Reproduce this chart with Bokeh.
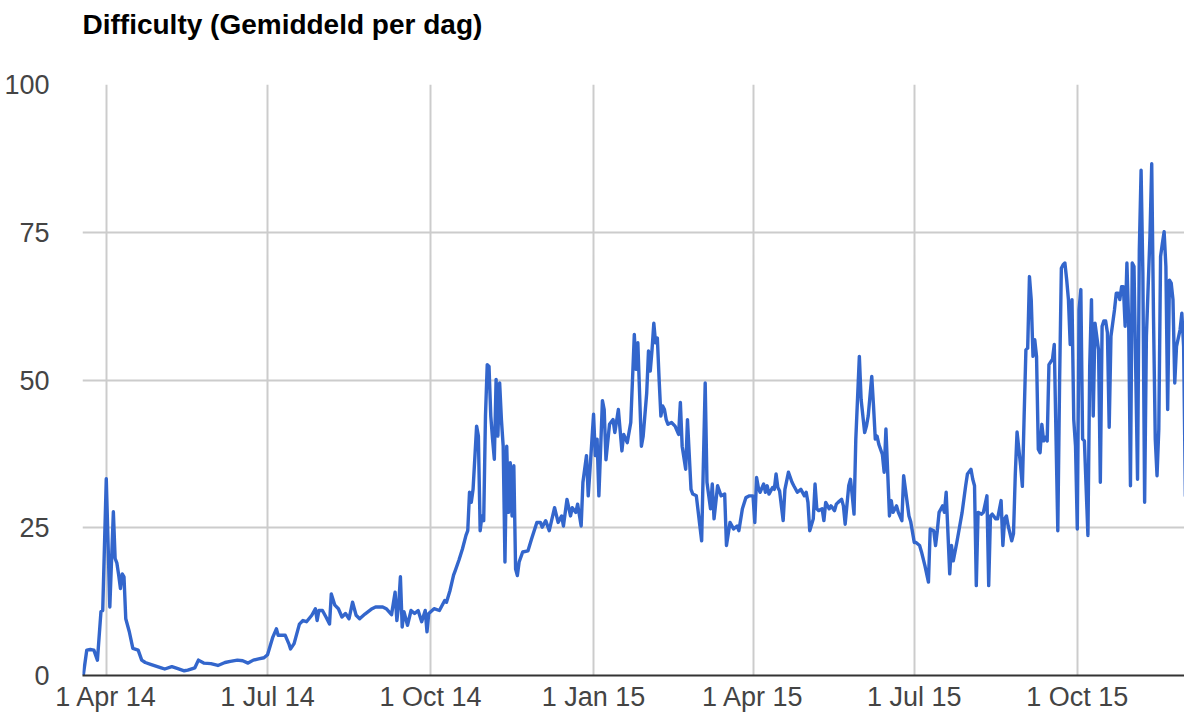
import numpy as np
import pandas as pd
from bokeh.plotting import figure
from bokeh.models import Range1d, FixedTicker, ColumnDataSource, Title
from bokeh.embed import file_html
from bokeh.resources import INLINE

# ---- data (daily average difficulty) ----
base_date = "2014-04-01"
day_offset = [
    -13, -11, -9, -7, -5, -3, -2, 0, 2, 4, 5, 6, 7, 8, 9, 10, 11, 13, 15, 18,
    20, 22, 25, 28, 31, 33, 37, 40, 44, 46, 50, 52, 55, 59, 63, 67, 70, 74, 77, 80,
    83, 86, 89, 91, 94, 96, 97, 99, 101, 103, 104, 106, 109, 111, 113, 116, 118, 119, 120, 122,
    124, 126, 127, 129, 131, 133, 135, 137, 139, 141, 143, 146, 150, 152, 156, 158, 161, 163, 164, 165,
    166, 167, 168, 170, 172, 174, 176, 178, 180, 181, 182, 185, 188, 191, 192, 194, 196, 197, 199, 201,
    203, 204, 205, 206, 207, 209, 210, 211, 212, 213, 214, 215, 216, 217, 218, 219, 220, 221, 222, 223,
    224, 225, 226, 227, 228, 229, 230, 231, 232, 233, 235, 238, 240, 243, 245, 246, 248, 250, 253, 255,
    257, 258, 260, 262, 263, 265, 266, 268, 269, 271, 272, 273, 275, 276, 277, 278, 280, 281, 282, 284,
    286, 287, 289, 291, 292, 294, 296, 298, 299, 300, 302, 303, 305, 306, 307, 308, 309, 310, 311, 312,
    313, 314, 315, 316, 317, 319, 321, 323, 324, 325, 327, 328, 330, 331, 333, 335, 336, 338, 339, 341,
    342, 343, 345, 347, 349, 350, 352, 354, 356, 357, 359, 361, 363, 365, 366, 367, 368, 369, 371, 372,
    373, 374, 376, 377, 378, 379, 380, 382, 383, 385, 387, 388, 390, 392, 394, 395, 396, 397, 399, 400,
    401, 402, 404, 405, 406, 408, 409, 411, 412, 413, 415, 416, 417, 419, 420, 421, 422, 423, 425, 426,
    428, 429, 430, 432, 433, 434, 435, 436, 438, 439, 440, 442, 443, 444, 446, 447, 449, 450, 451, 453,
    454, 456, 457, 459, 460, 462, 464, 465, 467, 468, 469, 470, 472, 473, 474, 476, 477, 478, 480, 481,
    483, 485, 486, 488, 489, 490, 491, 492, 494, 495, 497, 498, 499, 500, 502, 503, 505, 506, 507, 508,
    509, 511, 512, 513, 514, 516, 517, 518, 519, 520, 521, 522, 523, 524, 525, 526, 527, 528, 529, 530,
    531, 532, 534, 535, 537, 538, 539, 540, 541, 542, 543, 544, 545, 546, 547, 548, 549, 550, 551, 552,
    554, 555, 556, 557, 558, 560, 561, 562, 563, 564, 565, 566, 567, 569, 570, 571, 572, 573, 574, 575,
    576, 577, 578, 579, 580, 582, 583, 584, 585, 586, 587, 589, 590, 591, 592, 593, 594, 595, 596, 597,
    598, 599, 600, 601, 602, 603, 604, 606, 607, 608, 609, 610, 612, 613,
]
difficulty = [
    0.0, 4.3, 4.4, 4.3, 2.6, 10.8, 11.0, 33.3, 11.6, 27.7, 19.8, 19.0, 17.0, 14.7, 17.2, 16.7, 9.6, 7.4, 4.6, 4.3,
    2.6, 2.2, 1.9, 1.6, 1.3, 1.1, 1.5, 1.2, 0.8, 0.9, 1.3, 2.6, 2.1, 2.0, 1.7, 2.2, 2.4, 2.6, 2.5, 2.1,
    2.6, 2.8, 3.0, 3.5, 6.5, 7.9, 6.8, 6.8, 6.8, 5.4, 4.5, 5.4, 8.7, 9.3, 9.1, 10.2, 11.3, 9.3, 11.0, 11.0,
    9.9, 8.7, 13.8, 11.9, 11.3, 9.9, 10.5, 9.6, 12.4, 10.2, 9.6, 10.4, 11.3, 11.6, 11.6, 11.3, 10.3, 14.1, 9.3, 11.9,
    16.7, 8.2, 10.8, 8.5, 11.0, 10.5, 11.0, 9.1, 11.0, 7.4, 10.5, 11.3, 11.0, 12.7, 12.4, 14.4, 17.0, 17.8, 19.5, 21.4,
    23.7, 24.5, 31.0, 29.3, 31.5, 42.2, 40.5, 24.5, 27.0, 26.2, 43.9, 52.6, 52.3, 43.9, 40.0, 36.6, 50.1, 40.5, 49.5, 43.3,
    38.8, 19.2, 38.8, 27.6, 36.0, 27.0, 35.5, 18.0, 16.9, 19.2, 20.9, 21.1, 23.1, 25.9, 25.9, 25.1, 26.2, 24.5, 28.4, 25.9,
    27.0, 25.3, 29.8, 27.0, 28.4, 27.6, 29.0, 25.3, 32.7, 37.2, 30.4, 34.9, 44.2, 37.2, 40.0, 30.4, 46.5, 45.0, 36.5, 42.5,
    43.3, 41.1, 45.0, 38.0, 40.8, 39.4, 42.8, 57.7, 51.8, 56.3, 38.8, 40.5, 47.8, 54.9, 51.5, 55.1, 59.6, 56.3, 57.1, 50.1,
    43.9, 45.6, 45.0, 43.3, 42.5, 42.8, 42.2, 40.8, 46.2, 38.8, 34.9, 43.3, 31.5, 30.7, 30.4, 25.3, 22.8, 49.5, 32.7, 28.2,
    32.4, 26.5, 32.1, 30.4, 30.7, 22.0, 25.9, 24.8, 25.3, 24.5, 28.2, 30.1, 30.4, 30.4, 25.9, 33.5, 31.8, 31.0, 32.4, 31.0,
    32.1, 30.7, 31.8, 31.5, 34.1, 31.8, 31.2, 26.2, 31.5, 34.4, 32.7, 32.1, 31.0, 31.5, 30.4, 31.0, 29.3, 24.5, 26.5, 32.4,
    28.2, 27.9, 28.2, 26.2, 29.3, 28.2, 28.7, 27.9, 29.0, 29.3, 29.8, 28.7, 25.6, 32.1, 33.2, 30.4, 27.3, 40.0, 54.0, 46.7,
    41.1, 42.2, 43.9, 50.6, 45.6, 40.0, 40.5, 39.1, 37.4, 34.4, 41.7, 27.0, 29.6, 27.6, 28.7, 27.6, 26.2, 33.8, 31.5, 27.0,
    26.0, 22.5, 22.5, 22.0, 21.0, 18.6, 15.8, 24.8, 24.5, 22.0, 24.5, 27.6, 28.7, 27.6, 31.0, 17.2, 22.0, 19.4, 22.5, 24.2,
    27.6, 32.1, 34.1, 34.9, 33.2, 32.1, 15.2, 27.6, 27.3, 27.6, 30.4, 15.2, 27.0, 27.3, 26.5, 26.5, 29.6, 22.0, 26.5, 27.0,
    25.3, 22.8, 24.0, 34.0, 41.2, 35.5, 32.0, 43.9, 55.1, 55.4, 67.5, 63.6, 54.0, 56.8, 54.0, 38.3, 37.7, 42.5, 39.7, 40.3,
    39.7, 52.6, 53.5, 56.0, 24.5, 49.5, 68.9, 69.5, 69.8, 67.0, 63.6, 56.0, 63.6, 43.3, 38.8, 24.8, 61.9, 65.3, 40.0, 39.7,
    23.7, 52.3, 63.6, 43.9, 59.6, 55.1, 32.7, 59.1, 60.0, 60.0, 58.0, 42.0, 57.4, 61.9, 64.7, 64.7, 63.6, 65.8, 65.8, 59.1,
    69.8, 59.6, 32.1, 69.8, 69.2, 33.2, 72.0, 85.5, 68.1, 29.3, 57.4, 74.3, 86.6, 60.8, 40.0, 33.8, 41.7, 70.9, 73.1, 75.1,
    69.2, 45.0, 66.9, 66.4, 63.6, 49.5, 55.7, 58.5, 61.3, 55.7, 30.4, 72.0, 73.7, 75.9,
]
tick_dates = ["2014-04-01", "2014-07-01", "2014-10-01", "2015-01-01",
              "2015-04-01", "2015-07-01", "2015-10-01"]
tick_labels = ["1 Apr 14", "1 Jul 14", "1 Oct 14", "1 Jan 15",
               "1 Apr 15", "1 Jul 15", "1 Oct 15"]
y_ticks = [0, 25, 50, 75, 100]
title_text = "Difficulty (Gemiddeld per dag)"

# ---- build ----
dates = pd.Timestamp(base_date) + pd.to_timedelta(day_offset, unit="D")
src = ColumnDataSource(dict(date=dates, value=difficulty))

x_start = pd.Timestamp("2014-03-18 14:00")
x_end = pd.Timestamp("2015-11-30 12:00")

FONT = "Liberation Sans"

p = figure(width=1184, height=714, x_axis_type="datetime",
           x_range=Range1d(x_start, x_end), y_range=Range1d(0, 100),
           output_backend="svg", toolbar_location=None, tools="",
           min_border_left=82, min_border_right=0, min_border_top=84,
           min_border_bottom=0)

p.line("date", "value", source=src, line_color="#3366CC", line_width=3.4,
       line_join="round")

p.title.text = title_text
p.title.text_font = FONT
p.title.text_font_size = "28px"
p.title.text_font_style = "bold"
p.title.text_color = "#000000"
p.title.standoff = 0
p.title.align = "left"

# blank spacer panel between the title and the plot frame
spacer = Title(text=" ", text_font_size="10px", standoff=32)
p.add_layout(spacer, "above")

p.outline_line_color = None
p.background_fill_color = "white"
p.border_fill_color = "white"

tick_ms = [float(pd.Timestamp(d).value // 10**6) for d in tick_dates]
p.xaxis.ticker = FixedTicker(ticks=tick_ms)
p.xaxis.major_label_overrides = {t: l for t, l in zip(tick_ms, tick_labels)}
p.yaxis.ticker = FixedTicker(ticks=y_ticks)

for ax in (p.xaxis, p.yaxis):
    ax.major_label_text_font = FONT
    ax.major_label_text_font_size = "27px"
    ax.major_label_text_color = "#444444"
    ax.major_tick_line_color = None
    ax.minor_tick_line_color = None

p.xaxis.axis_line_color = "#333333"
p.xaxis.axis_line_width = 2
p.xaxis.major_label_standoff = 0
p.yaxis.axis_line_color = None
p.yaxis.major_label_standoff = 27

p.xgrid.grid_line_color = "#cccccc"
p.xgrid.grid_line_width = 2
p.ygrid.grid_line_color = "#cccccc"
p.ygrid.grid_line_width = 2

open("out.html", "w").write(file_html(p, INLINE))
